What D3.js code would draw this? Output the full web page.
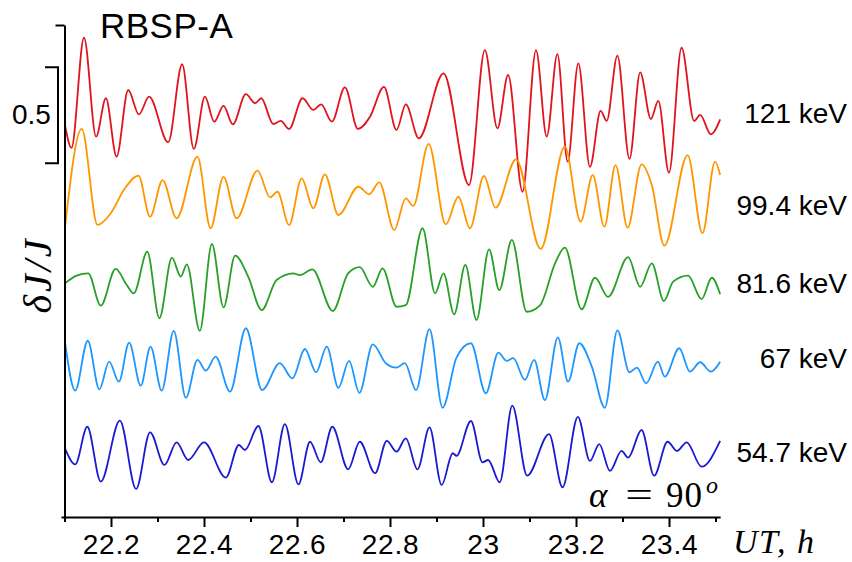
<!DOCTYPE html>
<meta charset="UTF-8">
<style>
  body { margin: 0; background: #fff; }

  .trace {
    fill: none;
    stroke-width: 1.8px;
    stroke-linejoin: round;
  }

  .axis path, .axis line {
    stroke: #000;
    stroke-width: 2px;
  }

  .axis text {
    font: 28px Arial, "Liberation Sans", sans-serif;
    letter-spacing: 0.8px;
    fill: #000;
  }

  .lab {
    font-family: Arial, "Liberation Sans", sans-serif;
    font-size: 28px;
    fill: #000;
  }

  .math {
    font-family: "Liberation Serif", "DejaVu Serif", serif;
    fill: #000;
  }
</style>

<body>

<svg width="852" height="562" id="chart"></svg>

<!-- load the d3.js library -->
<script src="https://d3js.org/d3.v7.min.js"></script>
<script>

// ---------- data (UT in hours, dJ/J) ----------
var energies = ["121 keV", "99.4 keV", "81.6 keV", "67 keV", "54.7 keV"];
var offsets = [2.0, 1.65, 1.2, 0.75, 0.35];

var time121 = [22.101, 22.115, 22.142, 22.168, 22.189, 22.212, 22.237, 22.260, 22.282, 22.323, 22.353, 22.378, 22.402, 22.422, 22.442, 22.462, 22.490, 22.510, 22.523, 22.549, 22.565, 22.583, 22.612, 22.635, 22.652, 22.675, 22.703, 22.731, 22.757, 22.787, 22.814, 22.834, 22.862, 22.915, 22.970, 23.004, 23.031, 23.054, 23.085, 23.114, 23.137, 23.160, 23.182, 23.205, 23.230, 23.253, 23.266, 23.289, 23.315, 23.338, 23.361, 23.377, 23.400, 23.427, 23.454, 23.467, 23.490, 23.510];
var dj121 = [0.042, -0.077, 0.496, -0.019, 0.181, -0.123, 0.224, 0.097, 0.189, -0.048, 0.358, -0.083, 0.189, 0.059, 0.141, 0.045, 0.202, 0.155, 0.181, 0.047, 0.063, 0.021, 0.181, 0.120, 0.149, 0.059, 0.238, 0.021, 0.085, 0.240, 0.016, 0.149, -0.028, 0.311, -0.271, 0.432, 0.024, 0.302, -0.306, 0.432, -0.019, 0.411, -0.149, 0.363, -0.176, 0.115, 0.063, 0.403, -0.135, 0.316, 0.073, 0.167, -0.207, 0.444, 0.063, 0.094, -0.007, 0.071];

var time994 = [22.101, 22.137, 22.171, 22.198, 22.230, 22.259, 22.284, 22.311, 22.341, 22.386, 22.414, 22.442, 22.470, 22.515, 22.542, 22.558, 22.583, 22.610, 22.635, 22.660, 22.689, 22.732, 22.755, 22.777, 22.809, 22.834, 22.850, 22.883, 22.920, 22.947, 22.972, 23.002, 23.027, 23.071, 23.124, 23.176, 23.210, 23.236, 23.261, 23.285, 23.311, 23.341, 23.363, 23.390, 23.440, 23.472, 23.499, 23.510];
var dj994 = [-0.146, 0.371, -0.129, -0.073, 0.062, 0.128, -0.086, 0.105, -0.094, 0.227, -0.146, 0.122, -0.094, 0.154, 0.015, 0.044, -0.129, 0.114, -0.042, 0.135, -0.077, 0.070, 0.031, 0.093, -0.155, 0.010, -0.030, 0.293, -0.126, 0.018, -0.146, 0.126, -0.039, 0.213, -0.254, 0.279, -0.112, 0.131, -0.138, 0.183, -0.143, 0.187, 0.079, -0.237, 0.235, -0.172, 0.201, 0.131];

var time816 = [22.101, 22.126, 22.151, 22.178, 22.210, 22.234, 22.249, 22.278, 22.304, 22.331, 22.350, 22.363, 22.391, 22.417, 22.442, 22.467, 22.495, 22.524, 22.556, 22.592, 22.606, 22.633, 22.677, 22.710, 22.735, 22.763, 22.784, 22.814, 22.834, 22.870, 22.897, 22.915, 22.938, 22.962, 22.986, 23.013, 23.035, 23.062, 23.094, 23.123, 23.155, 23.176, 23.212, 23.241, 23.269, 23.312, 23.338, 23.363, 23.389, 23.409, 23.441, 23.470, 23.492, 23.510];
var dj816 = [0.017, 0.057, 0.069, -0.099, 0.092, 0.008, -0.035, 0.182, -0.165, 0.151, 0.052, 0.116, -0.230, 0.222, -0.108, 0.161, 0.052, -0.122, 0.034, 0.069, 0.060, 0.090, -0.127, 0.069, 0.101, -0.001, 0.095, -0.105, -0.096, 0.304, -0.035, 0.069, -0.144, 0.113, -0.174, 0.194, -0.018, 0.243, -0.131, -0.096, 0.121, 0.203, -0.118, 0.046, -0.053, 0.153, -0.001, 0.121, -0.075, 0.026, 0.057, -0.065, 0.046, -0.040];

var time67 = [22.101, 22.123, 22.150, 22.175, 22.196, 22.217, 22.239, 22.264, 22.285, 22.309, 22.335, 22.361, 22.386, 22.404, 22.425, 22.456, 22.490, 22.525, 22.563, 22.590, 22.617, 22.641, 22.664, 22.689, 22.712, 22.734, 22.763, 22.791, 22.814, 22.832, 22.856, 22.885, 22.913, 22.943, 22.974, 23.006, 23.033, 23.051, 23.065, 23.090, 23.110, 23.133, 23.161, 23.183, 23.207, 23.234, 23.262, 23.289, 23.315, 23.331, 23.351, 23.376, 23.391, 23.422, 23.445, 23.467, 23.490, 23.510];
var dj67 = [0.163, -0.092, 0.168, -0.085, 0.059, -0.045, 0.158, -0.066, 0.137, -0.092, 0.219, -0.129, 0.068, 0.012, 0.085, -0.097, 0.233, -0.089, 0.051, -0.028, 0.125, 0.004, 0.137, -0.077, 0.063, -0.103, 0.149, 0.051, 0.028, 0.051, -0.089, 0.229, -0.181, 0.080, 0.155, -0.106, 0.106, 0.063, 0.077, -0.036, 0.068, -0.141, 0.186, -0.045, 0.155, 0.033, -0.181, 0.222, 0.004, 0.028, -0.054, 0.059, -0.019, 0.129, 0.007, 0.056, 0.007, 0.059];

var time547 = [22.101, 22.123, 22.149, 22.178, 22.219, 22.254, 22.284, 22.315, 22.341, 22.366, 22.400, 22.447, 22.475, 22.488, 22.517, 22.546, 22.574, 22.603, 22.628, 22.651, 22.676, 22.710, 22.735, 22.768, 22.793, 22.814, 22.834, 22.859, 22.885, 22.911, 22.935, 22.943, 22.974, 22.999, 23.011, 23.036, 23.063, 23.095, 23.142, 23.171, 23.204, 23.230, 23.250, 23.273, 23.298, 23.312, 23.341, 23.368, 23.397, 23.417, 23.438, 23.470, 23.510];
var dj547 = [0.008, -0.076, 0.120, -0.166, 0.152, -0.204, 0.091, -0.079, 0.039, -0.053, 0.039, -0.145, 0.025, -0.001, 0.124, -0.169, 0.134, -0.180, 0.042, -0.065, 0.120, -0.102, 0.042, -0.122, 0.047, -0.010, 0.060, -0.102, 0.117, -0.183, -0.018, -0.031, 0.150, -0.065, -0.053, -0.169, 0.230, -0.135, 0.082, -0.195, 0.172, -0.058, 0.030, -0.110, -0.006, -0.041, 0.103, -0.135, 0.042, -0.006, 0.039, -0.088, 0.046];

var majorTicks = [22.2, 22.4, 22.6, 22.8, 23.0, 23.2, 23.4];
var tickLabels = ["22.2", "22.4", "22.6", "22.8", "23", "23.2", "23.4"];
var minorTicks = [22.1, 22.3, 22.5, 22.7, 22.9, 23.1, 23.3, 23.5];
var scaleBarSize = 0.5;

// ---------- layout ----------
var colors = ["#e0141e", "#ff9600", "#28a028", "#1e96ff", "#1a1ad2"];
var times = [time121, time994, time816, time67, time547];
var values = [dj121, dj994, dj816, dj67, dj547];

var svg = d3.select("#chart");

var x = d3.scaleLinear().domain([22.1, 23.51]).range([64.5, 720.15]);
var y = d3.scaleLinear().domain([0, 2.5625]).range([517, 25]);

var series = energies.map(function(name, i) {
  return {
    name: name,
    color: colors[i],
    points: times[i].map(function(t, j) {
      return {t: t, v: values[i][j] + offsets[i]};
    })
  };
});

var line = d3.line()
    .x(function(d) { return x(d.t); })
    .y(function(d) { return y(d.v); })
    .curve(d3.curveMonotoneX);

// traces
svg.append("g").selectAll("path")
    .data(series)
  .enter().append("path")
    .attr("class", "trace")
    .attr("stroke", function(d) { return d.color; })
    .attr("d", function(d) { return line(d.points); });

// x axis: major + minor ticks
svg.append("g")
    .attr("class", "axis")
    .attr("transform", "translate(0,517)")
    .call(d3.axisBottom(x)
      .tickValues(majorTicks)
      .tickSize(10)
      .tickSizeOuter(0)
      .tickPadding(7)
      .tickFormat(function(d, i) { return tickLabels[i]; }));

svg.append("g")
    .attr("class", "axis")
    .attr("transform", "translate(0,517)")
    .call(d3.axisBottom(x)
      .tickValues(minorTicks)
      .tickSize(5)
      .tickFormat(""))
  .select(".domain").remove();

// y axis, only a tick at the top and a stub at the bottom
var yAxisG = svg.append("g")
    .attr("class", "axis")
    .attr("transform", "translate(64.5,0)")
    .call(d3.axisLeft(y)
      .tickValues([0, y.domain()[1]])
      .tickSize(9)
      .tickSizeOuter(0)
      .tickFormat(""));
yAxisG.selectAll(".tick line")
    .attr("x2", function(d) { return d === 0 ? -3 : -9; });

// scale bar 0.5
var sbTop = y.domain()[1] - 0.22;
var sbBot = sbTop - scaleBarSize;
svg.append("path")
    .attr("fill", "none")
    .attr("stroke", "#000")
    .attr("stroke-width", 2)
    .attr("d", "M45," + y(sbTop) + "H58V" + y(sbBot) + "H45");

svg.append("text")
    .attr("class", "lab")
    .attr("x", 12)
    .attr("y", (y(sbTop) + y(sbBot)) / 2 + 8.5)
    .text("0.5");

// energy labels
var labelY = [123.3, 215, 293.3, 368.3, 461.7];
svg.append("g").selectAll("text")
    .data(energies)
  .enter().append("text")
    .attr("class", "lab")
    .attr("x", 847)
    .attr("y", function(d, i) { return labelY[i]; })
    .attr("text-anchor", "end")
    .text(function(d) { return d; });

// title
svg.append("text")
    .attr("class", "lab")
    .attr("x", 100)
    .attr("y", 38)
    .style("font-size", "35px")
    .style("letter-spacing", "0.5px")
    .text("RBSP-A");

// y label
svg.append("text")
    .attr("class", "math")
    .attr("transform", "translate(51,275) rotate(-90)")
    .attr("text-anchor", "middle")
    .style("font-size", "40px")
    .style("font-style", "italic")
    .style("letter-spacing", "3px")
    .text("δJ/J");

// alpha = 90^o
var alpha = svg.append("g").attr("class", "math").style("font-size", "35px");
alpha.append("text").attr("x", 589).attr("y", 507).style("font-style", "italic").text("α");
alpha.append("text").attr("x", 639).attr("y", 507).attr("text-anchor", "middle")
    .attr("transform", "translate(639,0) scale(1.4,1) translate(-639,0)").text("=");
alpha.append("text").attr("x", 666).attr("y", 507).style("letter-spacing", "1px").text("90");
alpha.append("text").attr("x", 706).attr("y", 493).style("font-size", "24px")
    .style("font-style", "italic").text("o");

// UT, h
svg.append("text")
    .attr("class", "math")
    .attr("x", 733)
    .attr("y", 553)
    .style("font-size", "34px")
    .style("font-style", "italic")
    .style("letter-spacing", "1.5px")
    .text("UT, h");

</script>

</body>
